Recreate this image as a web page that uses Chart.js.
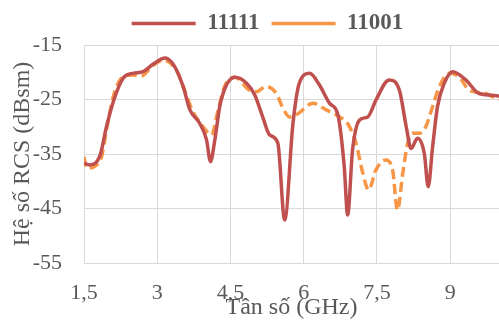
<!DOCTYPE html>
<html>
<head>
<meta charset="utf-8">
<script src="https://cdn.jsdelivr.net/npm/chart.js@4.4.0/dist/chart.umd.min.js"></script>
<style>
  html, body { margin: 0; padding: 0; background: #fff; }
  #wrap { width: 499px; height: 322px; }
</style>
</head>
<body>
<div id="wrap"><canvas id="rcsChart" width="499" height="322"></canvas></div>
<script>
// Series 11111 (solid)
const freq11111 = [1.5, 1.62, 1.83, 1.96, 2.1, 2.3, 2.5, 2.71, 2.92, 3.16, 3.36, 3.53, 3.67, 3.87, 4.01, 4.09, 4.18, 4.28, 4.42, 4.59,
    4.83, 5.0, 5.16, 5.3, 5.47, 5.61, 5.78, 5.91, 6.12, 6.32, 6.53, 6.7, 6.83, 6.9, 7.0, 7.14, 7.31, 7.48, 7.75, 7.96,
    8.1, 8.2, 8.33, 8.47, 8.55, 8.64, 8.74, 8.88, 9.05, 9.32, 9.59, 9.86, 10];
const rcs11111 = [-36.7, -37.0, -35.2, -30, -25.4, -21.1, -20.2, -19.9, -18.5, -17.4, -19, -22.6, -26.9, -29.4, -32.4, -36.4, -32.4, -26.3, -22.3, -20.9,
    -22, -24.2, -28.2, -31.5, -33, -47.1, -29.4, -22, -20.2, -22.3, -25.7, -27.8, -37.3, -46.2, -34.3, -28.8, -28.2, -25.1, -21.4, -23.3,
    -30, -34, -32.1, -34.9, -41, -33.7, -26.3, -22, -19.9, -21.4, -23.9, -24.2, -24.4];

// Series 11001 (dashed)
const freq11001 = [1.5, 1.55, 1.76, 1.86, 1.96, 2.1, 2.24, 2.5, 2.68, 2.88, 3.12, 3.39, 3.56, 3.73, 3.94, 4.11, 4.24, 4.38, 4.59, 4.89,
    5.03, 5.23, 5.44, 5.57, 5.71, 5.85, 6.19, 6.46, 6.77, 6.9, 7.07, 7.21, 7.33, 7.48, 7.68, 7.82, 7.92, 8.03, 8.13, 8.23,
    8.37, 8.5, 8.64, 8.78, 8.98, 9.18, 9.39, 9.73, 9.93, 10];
const rcs11001 = [-35.5, -37.6, -37, -35.5, -30.6, -24.5, -21.4, -20.5, -20.7, -19, -17.8, -19.6, -23.3, -27.2, -30, -31.5, -27.2, -22.6, -20.9, -23.3,
    -23.6, -22.6, -23.9, -26.5, -28.2, -27.8, -25.7, -26.9, -28.4, -29.4, -33, -38.5, -41.6, -37.9, -36.1, -37.9, -45.3, -38.5, -33, -31.2,
    -31.2, -30, -26.3, -22.6, -20.2, -20.8, -23.3, -23.9, -24.8, -25];

// Axis ticks
const xTicks = [1.5, 3, 4.5, 6, 7.5, 9];
const xTickLabels = ['1,5', '3', '4,5', '6', '7,5', '9'];
const yTicks = [-55, -45, -35, -25, -15];

const serif = "'Liberation Serif', 'Times New Roman', serif";
const textColor = '#595959';
const gridColor = '#d9d9d9';

function toPoints(xs, ys) {
    return xs.map((x, i) => ({ x: x, y: ys[i] }));
}

// Legend in the reference sits a bit right of centre
const shiftLegend = {
    id: 'shiftLegend',
    afterLayout(chart) {
        const lg = chart.legend;
        if (!lg) return;
        lg.left += 18;
        lg.right += 18;
    }
};

new Chart(document.getElementById('rcsChart'), {
    type: 'line',
    data: {
        datasets: [
            {
                label: '11111',
                data: toPoints(freq11111, rcs11111),
                borderColor: '#c0504d',
                backgroundColor: '#c0504d',
                borderWidth: 3.5,
                pointRadius: 0,
                cubicInterpolationMode: 'monotone'
            },
            {
                label: '11001',
                data: toPoints(freq11001, rcs11001),
                borderColor: '#f79646',
                backgroundColor: '#f79646',
                borderWidth: 3.5,
                borderDash: [10, 5],
                pointRadius: 0,
                cubicInterpolationMode: 'monotone'
            }
        ]
    },
    options: {
        responsive: false,
        animation: false,
        layout: { padding: 0 },
        plugins: {
            legend: {
                position: 'top',
                labels: {
                    usePointStyle: true,
                    pointStyle: 'line',
                    pointStyleWidth: 64,
                    padding: 12,
                    color: textColor,
                    font: { family: serif, size: 23, weight: 'bold' }
                }
            },
            tooltip: { enabled: false }
        },
        scales: {
            x: {
                type: 'linear',
                min: 1.5,
                max: 10,
                afterBuildTicks: function(scale) {
                    scale.ticks = xTicks.map(v => ({ value: v }));
                },
                afterFit: function(scale) { scale.height = 59; },
                grid: { color: gridColor, lineWidth: 1, drawTicks: false },
                border: { color: gridColor },
                ticks: {
                    padding: 17,
                    maxRotation: 0,
                    color: textColor,
                    font: { family: serif, size: 22 },
                    callback: function(value) {
                        const i = xTicks.indexOf(value);
                        return i >= 0 ? xTickLabels[i] : '';
                    }
                },
                title: {
                    display: true,
                    text: 'Tần số (GHz)',
                    color: textColor,
                    padding: { top: 0, bottom: 0 },
                    font: { family: serif, size: 24 }
                }
            },
            y: {
                min: -55,
                max: -15,
                afterBuildTicks: function(scale) {
                    scale.ticks = yTicks.map(v => ({ value: v }));
                },
                afterFit: function(scale) { scale.width = 84; },
                grid: { color: gridColor, lineWidth: 1, drawTicks: false },
                border: { color: gridColor },
                ticks: {
                    padding: 22,
                    color: textColor,
                    font: { family: serif, size: 22 }
                },
                title: {
                    display: true,
                    text: 'Hệ số RCS (dBsm)',
                    color: textColor,
                    padding: { top: 8, bottom: 0 },
                    font: { family: serif, size: 24 }
                }
            }
        }
    },
    plugins: [shiftLegend]
});
</script>
</body>
</html>
